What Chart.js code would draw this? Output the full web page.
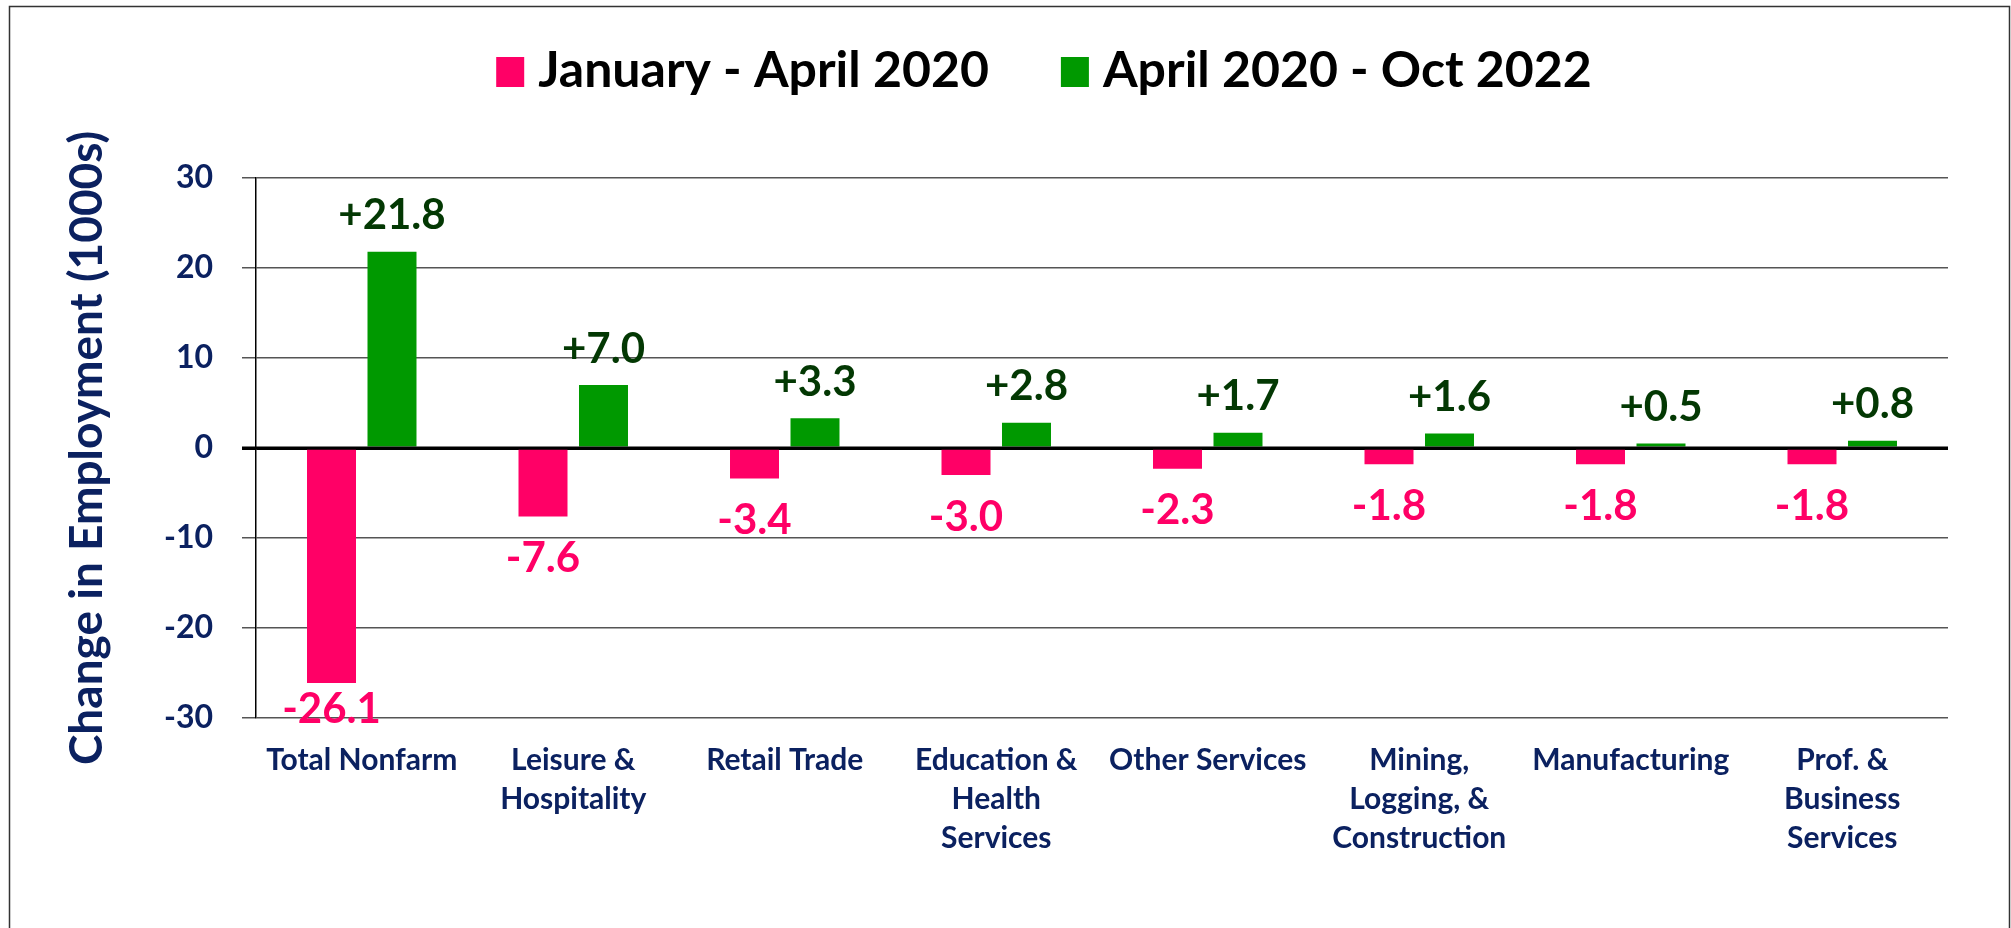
<!DOCTYPE html>
<html><head><meta charset="utf-8">
<script src="https://cdn.jsdelivr.net/npm/chart.js@4/dist/chart.umd.min.js"></script>
<style>html,body{margin:0;padding:0;background:#fff;} #wrap{width:2011px;height:928px;position:relative;}</style>
</head><body><div id="wrap"><canvas id="c"></canvas></div>
<script>
const categories = ['Total Nonfarm', ['Leisure &','Hospitality'], 'Retail Trade', ['Education &','Health','Services'], 'Other Services', ['Mining,','Logging, &','Construction'], 'Manufacturing', ['Prof. &','Business','Services']];
const seriesNames = ['January - April 2020', 'April 2020 - Oct 2022'];
const janApr2020 = [-26.1, -7.6, -3.4, -3.0, -2.3, -1.8, -1.8, -1.8];
const apr2020Oct2022 = [21.8, 7.0, 3.3, 2.8, 1.7, 1.6, 0.5, 0.8];
const yTicks = [-30, -20, -10, 0, 10, 20, 30];
const yTitle = 'Change in Employment (1000s)';

const NAVY = '#0b2160';
const PINK = '#ff0066';
const GREEN = '#009900';

const frame = {
  id: 'frame',
  beforeDraw(chart) {
    const ctx = chart.ctx;
    ctx.save();
    ctx.fillStyle = '#fff';
    ctx.fillRect(0, 0, chart.width, chart.height);
    ctx.strokeStyle = '#333';
    ctx.lineWidth = 1.5;
    ctx.strokeRect(9.5, 6.5, chart.width - 1.5 - 9.5, chart.height + 20);
    ctx.restore();
  }
};

const legendDraw = {
  id: 'legendDraw',
  afterDraw(chart) {
    const ctx = chart.ctx;
    ctx.save();
    ctx.font = 'bold 50px Lato';
    const ds = chart.data.datasets;
    const box = 28, boxH = 30, gap = 14, itemGap = 72;
    const widths = ds.map(d => ctx.measureText(d.label).width);
    let total = 0;
    widths.forEach((w, i) => { total += box + gap + w + (i < widths.length - 1 ? itemGap : 0); });
    let x = 1044 - total / 2;
    ds.forEach((d, i) => {
      ctx.fillStyle = d.backgroundColor;
      ctx.fillRect(x, 57, box, boxH);
      ctx.fillStyle = '#000';
      ctx.textBaseline = 'alphabetic';
      ctx.textAlign = 'left';
      ctx.fillText(d.label, x + box + gap, 87);
      x += box + gap + widths[i] + itemGap;
    });
    ctx.restore();
  }
};

const valueLabels = {
  id: 'valueLabels',
  afterDatasetsDraw(chart) {
    const ctx = chart.ctx, area = chart.chartArea;
    const yScale = chart.scales.y;
    ctx.save();
    const y0 = yScale.getPixelForValue(0);
    ctx.strokeStyle = '#000';
    ctx.lineWidth = 3;
    ctx.beginPath();
    ctx.moveTo(area.left - 14, y0);
    ctx.lineTo(area.right, y0);
    ctx.stroke();

    ctx.font = 'bold 42px Lato';
    ctx.textAlign = 'center';
    ctx.textBaseline = 'middle';
    chart.data.datasets.forEach((ds, i) => {
      const meta = chart.getDatasetMeta(i);
      meta.data.forEach((bar, j) => {
        const v = ds.data[j];
        const txt = (v > 0 ? '+' : '') + v.toFixed(1);
        let y = v >= 0 ? bar.y - 36 : bar.y + 42;
        y = Math.min(y, area.bottom - 9);
        ctx.fillStyle = ds.labelColor;
        ctx.fillText(txt, bar.x, y);
      });
    });
    ctx.restore();
  }
};

new Chart(document.getElementById('c'), {
  type: 'bar',
  data: {
    labels: categories,
    datasets: [
      { label: seriesNames[0], data: janApr2020, backgroundColor: PINK, labelColor: PINK,
        categoryPercentage: 0.572, barPercentage: 0.81 },
      { label: seriesNames[1], data: apr2020Oct2022, backgroundColor: GREEN, labelColor: '#033803',
        categoryPercentage: 0.572, barPercentage: 0.81 }
    ]
  },
  options: {
    responsive: true,
    maintainAspectRatio: false,
    animation: false,
    layout: { padding: { top: 178, right: 63, bottom: 0, left: 0 } },
    plugins: { legend: { display: false }, tooltip: { enabled: false } },
    scales: {
      x: {
        grid: { display: false },
        border: { display: false },
        ticks: {
          color: NAVY, font: { family: 'Lato', weight: 'bold', size: 30, lineHeight: 1.3 },
          padding: 15, maxRotation: 0, minRotation: 0, autoSkip: false
        },
        afterFit(scale) { scale.height = 210; }
      },
      y: {
        min: -30, max: 30,
        afterBuildTicks(scale) { scale.ticks = yTicks.map(v => ({ value: v })); },
        grid: {
          color: c => (c.tick && c.tick.value === 0) ? '#000' : '#555',
          lineWidth: c => (c.tick && c.tick.value === 0) ? 3 : 1.5,
          tickLength: 14, drawTicks: true
        },
        border: { display: true, color: '#000', width: 1.5 },
        ticks: {
          color: NAVY, font: { family: 'Lato', weight: 'bold', size: 32 },
          padding: 29
        },
        title: {
          display: true, text: yTitle, color: NAVY,
          font: { family: 'Lato', weight: 'bold', size: 46, lineHeight: 1 },
          padding: { top: 64, bottom: 0 }
        },
        afterFit(scale) { scale.width = 256; }
      }
    }
  },
  plugins: [frame, legendDraw, valueLabels]
});
</script>
</body></html>
